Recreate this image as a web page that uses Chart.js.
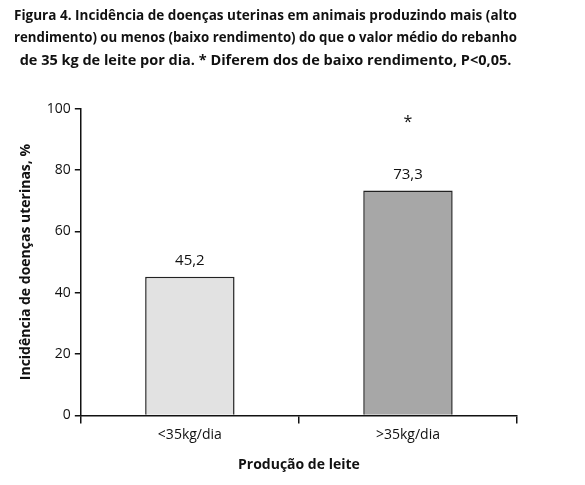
<!DOCTYPE html>
<html><head><meta charset="utf-8">
<script src="https://cdn.jsdelivr.net/npm/chart.js@4"></script>
<style>body{margin:0;background:#fff}#w{width:585px;height:485px}</style>
</head><body><div id="w"><canvas id="c"></canvas></div>
<script>
const categories = ['<35kg/dia', '>35kg/dia'];
const values = [45.2, 73.3];
const valueLabels = ['45,2', '73,3'];
const marks = ['', '*'];
const barColors = ['#e2e2e2', '#a7a7a7'];
const titleLines = ['Figura 4. Incidência de doenças uterinas em animais produzindo mais (alto',
 'rendimento) ou menos (baixo rendimento) do que o valor médio do rebanho',
 'de 35 kg de leite por dia. * Diferem dos de baixo rendimento, P<0,05.'];
const F = '"Open Sans", "Noto Sans", sans-serif';
const lbl = {id:'lbl', afterDatasetsDraw(ch){
  const ctx=ch.ctx; const meta=ch.getDatasetMeta(0);
  ctx.save(); ctx.fillStyle='#111'; ctx.textAlign='center';
  meta.data.forEach((b,i)=>{
    ctx.font='15px '+F; ctx.fillText(valueLabels[i], b.x, b.y-12);
    if(marks[i]){ctx.font='16px '+F; ctx.fillText(marks[i], b.x, ch.scales.y.getPixelForValue(100)+18);}
  }); ctx.restore();}};
new Chart(document.getElementById('c'),{type:'bar',
 data:{labels:categories,datasets:[{data:values,backgroundColor:barColors,borderColor:'#222',borderWidth:1.5,barPercentage:0.41,categoryPercentage:1}]},
 options:{responsive:true,maintainAspectRatio:false,animation:false,
  layout:{padding:{left:14,right:68,top:4,bottom:8}},
  plugins:{legend:{display:false},tooltip:{enabled:false},
   title:{display:true,text:titleLines,color:'#111',font:{family:F,size:14.5,weight:'bold',lineHeight:1.58},padding:{top:0,bottom:36}}},
  scales:{
   x:{grid:{drawOnChartArea:false,color:'#111',tickLength:8,lineWidth:1.5},border:{color:'#111',width:1.5},
      ticks:{color:'#111',font:{family:F,size:14}},
      title:{display:true,text:'Produção de leite',color:'#111',font:{family:F,size:14,weight:'bold'},padding:{top:10}}},
   y:{min:0,max:100,ticks:{stepSize:20,color:'#111',font:{family:F,size:14},padding:4},
      grid:{drawOnChartArea:false,color:'#111',tickLength:6,lineWidth:1.5},border:{color:'#111',width:1.5},
      title:{display:true,text:'Incidência de doenças uterinas, %',color:'#111',font:{family:F,size:14,weight:'bold'},padding:{bottom:8}}}
  }},plugins:[lbl]});
</script></body></html>
